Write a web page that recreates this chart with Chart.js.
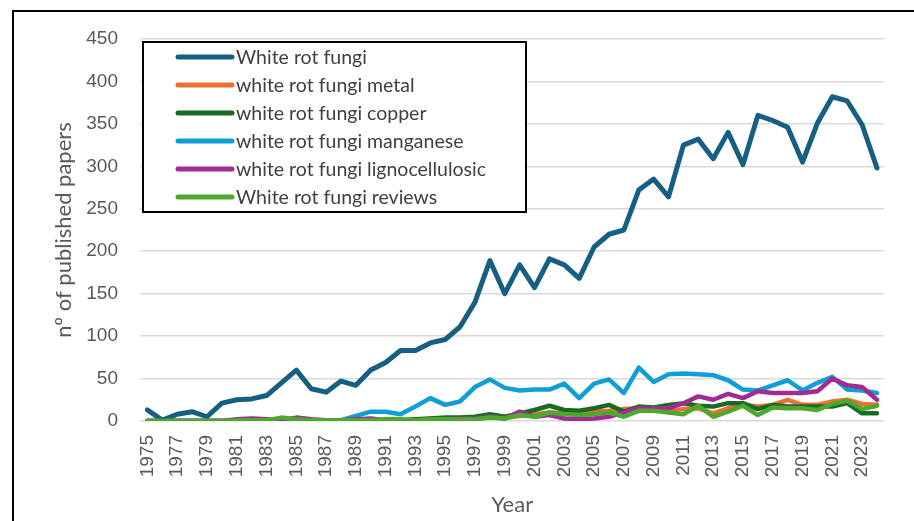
<!DOCTYPE html>
<html>
<head>
<meta charset="utf-8">
<script src="https://cdn.jsdelivr.net/npm/chart.js@4.4.1/dist/chart.umd.min.js"></script>
<style>
  body { margin: 0; background: #fff; }
  canvas { display: block; }
</style>
</head>
<body>
<canvas id="fungi-chart" width="914" height="521"></canvas>
<script>
// categories
var years = [
  "1975", "1976", "1977", "1978", "1979", "1980", "1981", "1982", "1983", "1984",
  "1985", "1986", "1987", "1988", "1989", "1990", "1991", "1992", "1993", "1994",
  "1995", "1996", "1997", "1998", "1999", "2000", "2001", "2002", "2003", "2004",
  "2005", "2006", "2007", "2008", "2009", "2010", "2011", "2012", "2013", "2014",
  "2015", "2016", "2017", "2018", "2019", "2020", "2021", "2022", "2023", "2024",
];

// series (papers per year)
var whiteRot = [
  13, 1, 8, 11, 5, 21, 25, 26, 30, 45,
  60, 38, 34, 47, 42, 60, 69, 83, 83, 92,
  96, 111, 140, 189, 150, 184, 157, 191, 184, 168,
  205, 220, 225, 272, 285, 264, 325, 332, 309, 340,
  302, 360, 354, 346, 305, 351, 382, 377, 349, 298,
];
var metal = [
  0, 0, 0, 0, 0, 0, 0, 0, 0, 0,
  0, 0, 0, 0, 0, 0, 0, 0, 0, 3,
  2, 3, 4, 5, 4, 6, 8, 10, 9, 10,
  11, 12, 14, 15, 13, 12, 14, 15, 9, 15,
  19, 17, 19, 25, 19, 19, 23, 25, 20, 19,
];
var copper = [
  0, 0, 0, 0, 0, 0, 0, 0, 0, 1,
  3, 1, 0, 1, 1, 2, 1, 1, 2, 3,
  4, 4, 5, 8, 5, 9, 13, 18, 13, 12,
  15, 19, 11, 17, 16, 19, 21, 18, 17, 21,
  21, 14, 19, 17, 17, 17, 17, 21, 9, 9,
];
var manganese = [
  0, 0, 0, 0, 0, 0, 0, 0, 0, 0,
  0, 0, 0, 1, 6, 11, 11, 8, 17, 27,
  19, 23, 40, 49, 39, 36, 37, 37, 44, 27,
  44, 49, 33, 63, 46, 55, 56, 55, 54, 48,
  37, 36, 42, 48, 36, 45, 52, 37, 36, 33,
];
var ligno = [
  0, 0, 0, 0, 0, 0, 2, 3, 2, 1,
  4, 2, 1, 1, 2, 3, 1, 0, 0, 2,
  2, 3, 3, 5, 3, 11, 5, 7, 3, 2,
  3, 5, 10, 15, 15, 15, 21, 29, 25, 32,
  27, 35, 33, 33, 33, 35, 50, 42, 40, 25,
];
var reviews = [
  0, 0, 0, 0, 0, 0, 1, 1, 1, 4,
  2, 1, 1, 1, 1, 1, 2, 2, 1, 2,
  2, 2, 2, 4, 3, 7, 5, 10, 8, 7,
  8, 10, 5, 12, 12, 10, 8, 18, 5, 11,
  18, 7, 16, 15, 15, 13, 20, 24, 14, 18,
];

var seriesNames = [
  "White rot fungi",
  "white rot fungi metal",
  "white rot fungi copper",
  "white rot fungi manganese",
  "white rot fungi lignocellulosic",
  "White rot fungi reviews",
];
var seriesValues = [whiteRot, metal, copper, manganese, ligno, reviews];
var seriesColors = ["#156082", "#E97132", "#196B24", "#0F9ED5", "#A02B93", "#4EA72E"];

var yTicks = [0, 50, 100, 150, 200, 250, 300, 350, 400, 450];

var datasets = seriesNames.map(function (name, i) {
  return {
    label: name,
    data: seriesValues[i],
    borderColor: seriesColors[i],
    backgroundColor: seriesColors[i],
    borderWidth: i === 0 ? 5 : 4.5,
    pointRadius: 0,
    tension: 0,
    borderJoinStyle: "round",
    borderCapStyle: "round",
    // excel draws later series on top
    order: seriesNames.length - 1 - i,
  };
});

// white page, outer frame and the boxed legend inside the plot
var frameAndLegend = {
  id: "frameAndLegend",
  beforeDraw: function (chart) {
    var c = chart.ctx;
    c.save();
    c.fillStyle = "#fff";
    c.fillRect(0, 0, chart.width, chart.height);
    c.restore();
  },
  afterDraw: function (chart) {
    var c = chart.ctx;
    c.save();
    c.strokeStyle = "#000";
    c.lineWidth = 2;
    c.beginPath();
    c.moveTo(13, chart.height);
    c.lineTo(13, 11);
    c.lineTo(chart.width, 11);
    c.stroke();

    c.fillStyle = "#fff";
    c.fillRect(143, 42, 383, 170);
    c.strokeRect(143, 42, 383, 170);

    c.font = "19.5px Lato";
    c.textBaseline = "middle";
    chart.data.datasets.forEach(function (ds, i) {
      var y = 57 + i * 28;
      c.strokeStyle = ds.borderColor;
      c.lineWidth = 5;
      c.lineCap = "round";
      c.beginPath();
      c.moveTo(178, y);
      c.lineTo(232, y);
      c.stroke();
      c.fillStyle = "#404040";
      c.fillText(ds.label, 236, y + 1);
    });
    c.restore();
  },
};

var ctx = document.getElementById("fungi-chart").getContext("2d");
var chart = new Chart(ctx, {
  type: "line",
  data: {
    labels: years,
    datasets: datasets,
  },
  options: {
    responsive: false,
    animation: false,
    layout: {
      padding: { top: 39, right: 22, bottom: 0, left: 0 },
    },
    plugins: {
      legend: { display: false },
      tooltip: { enabled: false },
    },
    scales: {
      x: {
        offset: true,
        grid: { display: false, drawTicks: false },
        border: { display: false },
        ticks: {
          autoSkip: false,
          minRotation: 90,
          maxRotation: 90,
          padding: 14,
          color: "#595959",
          font: { family: "Liberation Sans", size: 19 },
          callback: function (value, index) {
            return index % 2 === 0 ? years[index] : "";
          },
        },
        title: {
          display: true,
          text: "Year",
          color: "#595959",
          font: { family: "Lato", size: 22 },
          padding: { top: 0, bottom: 3 },
        },
        afterFit: function (scale) {
          scale.height = 100;
        },
      },
      y: {
        min: yTicks[0],
        max: yTicks[yTicks.length - 1],
        afterBuildTicks: function (scale) {
          scale.ticks = yTicks.map(function (v) { return { value: v }; });
        },
        grid: { color: "#d9d9d9", lineWidth: 1.5, drawTicks: false },
        border: { display: false },
        ticks: {
          padding: 22,
          color: "#595959",
          font: { family: "Liberation Sans", size: 19 },
        },
        title: {
          display: true,
          text: "nº of published papers",
          color: "#595959",
          font: { family: "Lato", size: 22 },
          padding: { top: 51, bottom: 0 },
        },
        afterFit: function (scale) {
          scale.width = 140;
        },
      },
    },
  },
  plugins: [frameAndLegend],
});
</script>
</body>
</html>
